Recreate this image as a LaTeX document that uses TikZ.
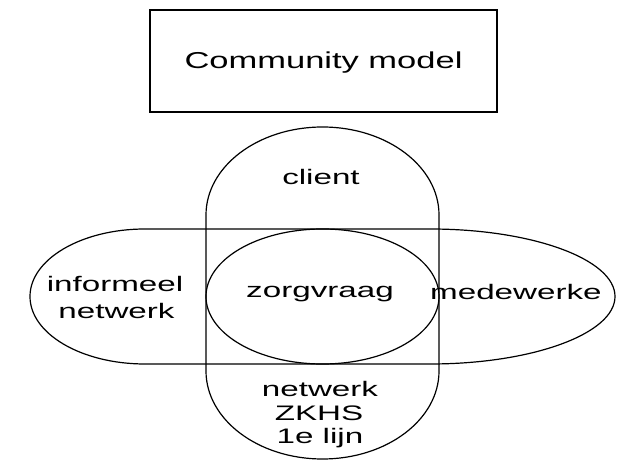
\documentclass[tikz,border=0pt]{standalone}
\usepackage{fontspec}
\setmainfont{Liberation Sans}
\usepackage{graphicx}
\newcommand{\hsB}[1]{\scalebox{1.58}[1]{#1}}
\newcommand{\hsT}[1]{\scalebox{1.5}[1]{#1}}
\begin{document}
\begin{tikzpicture}[x=1pt,y=1pt,
  shapeline/.style={draw=black, line width=1.2pt},
  lbl/.style={font=\fontsize{21}{23}\selectfont, inner sep=0pt, anchor=base},
  ttl/.style={font=\fontsize{23}{26}\selectfont, inner sep=0pt, anchor=base}]
\useasboundingbox (0,0) rectangle (621,460);
% title box
\node[shapeline, minimum width=347pt, minimum height=102pt, inner sep=0pt] (box) at (323.5,399) {};
\node[ttl] (title) at (323.5,391.7) {\hsT{Community model}};
% vertical capsule
\draw[shapeline] (206,245) arc[start angle=180, end angle=0, x radius=116.5, y radius=88]
  -- (439,89) arc[start angle=0, end angle=-180, x radius=116.5, y radius=88] -- cycle;
% horizontal capsule
\draw[shapeline] (145,231) -- (430,231)
  arc[start angle=90, end angle=-90, x radius=185, y radius=67.5]
  -- (145,96)
  arc[start angle=270, end angle=90, x radius=115, y radius=67.5] -- cycle;
% inner ellipse
\draw[shapeline] (322.5,163.5) ellipse[x radius=116.5, y radius=67.5];
% labels
\node[lbl] (client) at (321,275) {\hsB{client}};
\node[lbl] (inf1) at (115,168.3) {\hsB{informeel}};
\node[lbl] (inf2) at (116.5,141.7) {\hsB{netwerk}};
\node[lbl] (zorg) at (320,162) {\hsB{zorgvraag}};
\node[lbl, anchor=base west] (mede) at (430,160) {\hsB{medewerke}};
\node[lbl] (net1) at (320,63.3) {\hsB{netwerk}};
\node[lbl] (net2) at (319,39) {\hsB{ZKHS}};
\node[lbl] (net3) at (320,16) {\hsB{1e lijn}};
\end{tikzpicture}
\end{document}
